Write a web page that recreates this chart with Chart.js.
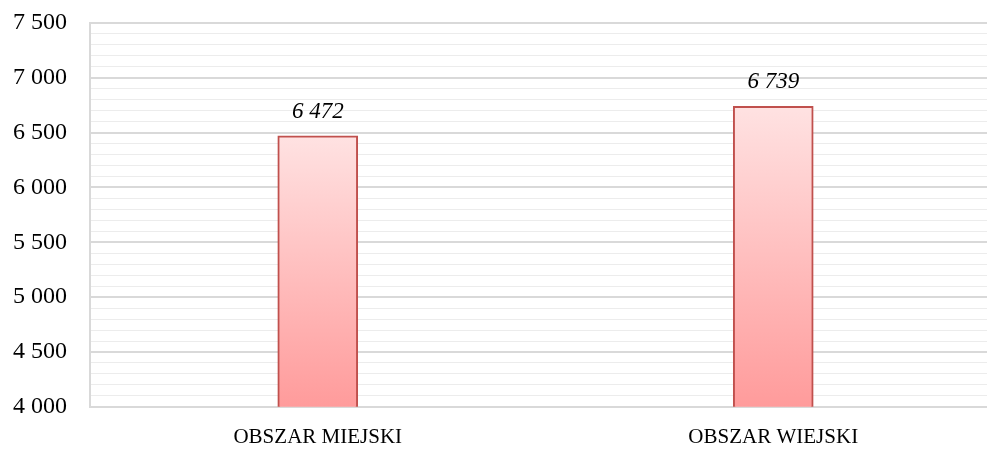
<!DOCTYPE html>
<html>
<head>
<meta charset="utf-8">
<script src="https://cdn.jsdelivr.net/npm/chart.js@4"></script>
<style>
  html, body { margin:0; padding:0; background:#fff; overflow:hidden; }
  #wrap { width:987px; height:450px; overflow:hidden; position:relative; }
  canvas { display:block; }
</style>
</head>
<body>
<div id="wrap"><canvas id="c" width="1001" height="450"></canvas></div>
<script>
const categories = ['OBSZAR MIEJSKI', 'OBSZAR WIEJSKI'];
const values = [6472, 6739];
const yMin = 4000;
const yMax = 7500;
const yMinorStep = 100;
const yMajorStep = 500;

const fmt = v => Math.round(v).toString().replace(/\B(?=(\d{3})+(?!\d))/g, ' ');
const FONT = '"Liberation Serif", "DejaVu Serif", serif';

const labelPlugin = {
  id: 'valueLabels',
  afterDatasetsDraw(chart) {
    const ctx = chart.ctx;
    const meta = chart.getDatasetMeta(0);
    ctx.save();
    ctx.font = 'italic 23px ' + FONT;
    ctx.fillStyle = '#000';
    ctx.textAlign = 'center';
    ctx.textBaseline = 'middle';
    meta.data.forEach((bar, i) => {
      ctx.fillText(fmt(chart.data.datasets[0].data[i]), bar.x, bar.y - 24);
    });
    ctx.restore();
  }
};

new Chart(document.getElementById('c'), {
  type: 'bar',
  data: {
    labels: categories,
    datasets: [{
      data: values,
      backgroundColor: (c) => {
        const chart = c.chart;
        if (!chart.chartArea || c.raw === undefined) return '#ffc0c0';
        const ys = chart.scales.y;
        const top = ys.getPixelForValue(c.raw);
        const bot = ys.getPixelForValue(ys.min);
        const g = chart.ctx.createLinearGradient(0, top, 0, bot);
        g.addColorStop(0, '#ffe2e2');
        g.addColorStop(1, '#ff9b9b');
        return g;
      },
      borderColor: '#c0504d',
      borderWidth: 2,
      borderSkipped: 'bottom',
      barThickness: 80
    }]
  },
  options: {
    responsive: false,
    devicePixelRatio: 1,
    animation: false,
    layout: { padding: { top: 0, left: -10, right: 0, bottom: -18 } },
    plugins: { legend: { display: false }, tooltip: { enabled: false } },
    scales: {
      x: {
        grid: { display: false, drawTicks: false },
        border: { display: true, color: '#d9d9d9', width: 2 },
        ticks: { color: '#000', font: { family: FONT, size: 21 }, padding: 18 }
      },
      y: {
        min: yMin,
        max: yMax,
        border: { display: true, color: '#d9d9d9', width: 2 },
        grid: {
          drawTicks: false,
          color: (c) => (c.tick && c.tick.value % yMajorStep === 0) ? '#d9d9d9' : '#ececec',
          lineWidth: (c) => (c.tick && c.tick.value % yMajorStep === 0) ? 2 : 1
        },
        ticks: {
          stepSize: yMinorStep,
          autoSkip: false,
          maxTicksLimit: 100,
          padding: 23,
          color: '#000',
          font: { family: FONT, size: 24, lineHeight: '0px' },
          callback: (v) => (v % yMajorStep === 0) ? fmt(v) : ''
        }
      }
    }
  },
  plugins: [labelPlugin]
});
</script>
</body>
</html>
